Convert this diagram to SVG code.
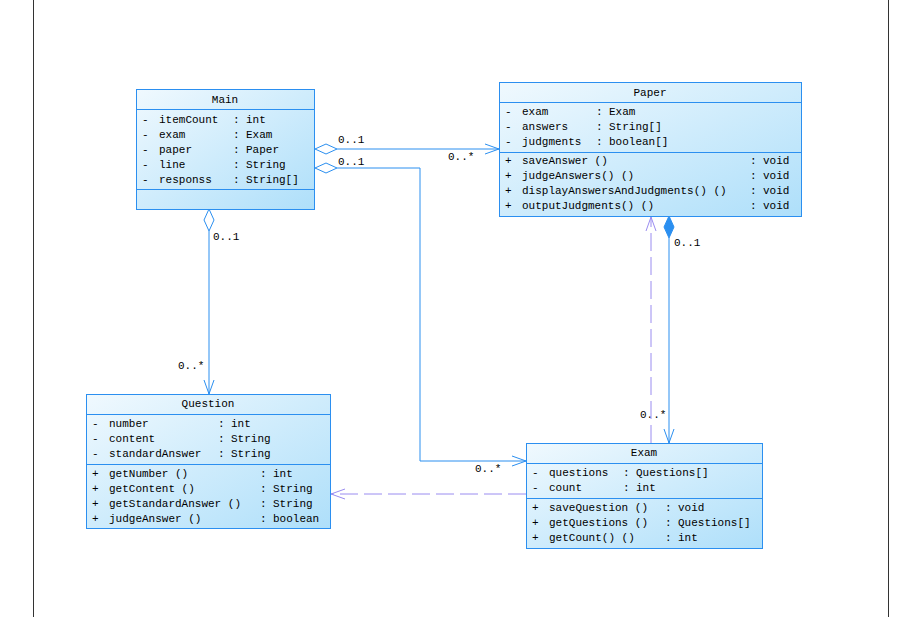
<svg xmlns="http://www.w3.org/2000/svg" width="910" height="617" viewBox="0 0 910 617">
<style>
.box{fill:url(#g);stroke:#2b8ff0;stroke-width:1}
.sep{stroke:#2b8ff0;stroke-width:1}
text{font-family:"Liberation Mono","DejaVu Sans Mono",monospace;font-size:11px;fill:#000}
.t{text-anchor:middle}
.c{fill:none;stroke:#2b8ff0;stroke-width:1}
.d{fill:none;stroke:#9a8cf0;stroke-width:1;stroke-dasharray:18,6}
</style>
<defs>
<linearGradient id="g" x1="0" y1="0" x2="1" y2="1">
<stop offset="0" stop-color="#f0f9fe"/><stop offset="1" stop-color="#aedffa"/>
</linearGradient>
</defs>
<rect width="910" height="617" fill="#fff"/>
<line x1="33.5" y1="0" x2="33.5" y2="617" stroke="#333"/>
<line x1="888.5" y1="0" x2="888.5" y2="617" stroke="#333"/>

<g id="connectors">
<path class="c" d="M337,149 H499"/>
<path fill="#fff" stroke="#2b8ff0" d="M315,149 L326,144 L337,149 L326,154 Z"/>
<path class="c" d="M485,144 L499,149 L485,154"/>
<text x="338" y="143">0..1</text><text x="448" y="160">0..*</text>

<path class="c" d="M337,168 H420 V461 H526"/>
<path fill="#fff" stroke="#2b8ff0" d="M315,168 L326,163 L337,168 L326,173 Z"/>
<path class="c" d="M512,456 L526,461 L512,466"/>
<text x="338" y="165">0..1</text><text x="475" y="472">0..*</text>

<path class="c" d="M209,231 V394"/>
<path fill="#fff" stroke="#2b8ff0" d="M209,209 L204,220 L209,231 L214,220 Z"/>
<path class="c" d="M204,380 L209,394 L214,380"/>
<text x="213" y="240">0..1</text><text x="178" y="369">0..*</text>

<path class="c" d="M669,238 V443"/>
<path fill="#2b8ff0" stroke="#2b8ff0" d="M669,216 L664,227 L669,238 L674,227 Z"/>
<path class="c" d="M664,429 L669,443 L674,429"/>
<text x="674" y="246">0..1</text><text x="640" y="418">0..*</text>

<path class="d" d="M651,443 V217"/>
<path fill="none" stroke="#9a8cf0" d="M646,231 L651,217 L656,231"/>
<path class="d" d="M526,494 H331"/>
<path fill="none" stroke="#9a8cf0" d="M345,489 L331,494 L345,499"/>
</g>

<g id="Main">
<rect class="box" x="136.5" y="89.5" width="178" height="120"/>
<line class="sep" x1="136" y1="109.5" x2="315" y2="109.5"/>
<line class="sep" x1="136" y1="189.5" x2="315" y2="189.5"/>
<text class="t" x="225" y="103">Main</text>
<text x="142" y="123">-</text><text x="159" y="123">itemCount</text><text x="233" y="123">:</text><text x="246" y="123">int</text>
<text x="142" y="138">-</text><text x="159" y="138">exam</text><text x="233" y="138">:</text><text x="246" y="138">Exam</text>
<text x="142" y="153">-</text><text x="159" y="153">paper</text><text x="233" y="153">:</text><text x="246" y="153">Paper</text>
<text x="142" y="168">-</text><text x="159" y="168">line</text><text x="233" y="168">:</text><text x="246" y="168">String</text>
<text x="142" y="183">-</text><text x="159" y="183">responss</text><text x="233" y="183">:</text><text x="246" y="183">String[]</text>
</g>

<g id="Paper">
<rect class="box" x="499.5" y="82.5" width="302" height="134"/>
<line class="sep" x1="499" y1="102.5" x2="802" y2="102.5"/>
<line class="sep" x1="499" y1="152.5" x2="802" y2="152.5"/>
<text class="t" x="650" y="96">Paper</text>
<text x="505" y="115">-</text><text x="522" y="115">exam</text><text x="596" y="115">:</text><text x="609" y="115">Exam</text>
<text x="505" y="130">-</text><text x="522" y="130">answers</text><text x="596" y="130">:</text><text x="609" y="130">String[]</text>
<text x="505" y="145">-</text><text x="522" y="145">judgments</text><text x="596" y="145">:</text><text x="609" y="145">boolean[]</text>
<text x="505" y="164">+</text><text x="522" y="164">saveAnswer ()</text><text x="750" y="164">:</text><text x="763" y="164">void</text>
<text x="505" y="179">+</text><text x="522" y="179">judgeAnswers() ()</text><text x="750" y="179">:</text><text x="763" y="179">void</text>
<text x="505" y="194">+</text><text x="522" y="194">displayAnswersAndJudgments() ()</text><text x="750" y="194">:</text><text x="763" y="194">void</text>
<text x="505" y="209">+</text><text x="522" y="209">outputJudgments() ()</text><text x="750" y="209">:</text><text x="763" y="209">void</text>
</g>

<g id="Question">
<rect class="box" x="86.5" y="394.5" width="244" height="134"/>
<line class="sep" x1="86" y1="414.5" x2="331" y2="414.5"/>
<line class="sep" x1="86" y1="464.5" x2="331" y2="464.5"/>
<text class="t" x="208" y="407">Question</text>
<text x="92" y="427">-</text><text x="109" y="427">number</text><text x="218" y="427">:</text><text x="231" y="427">int</text>
<text x="92" y="442">-</text><text x="109" y="442">content</text><text x="218" y="442">:</text><text x="231" y="442">String</text>
<text x="92" y="457">-</text><text x="109" y="457">standardAnswer</text><text x="218" y="457">:</text><text x="231" y="457">String</text>
<text x="92" y="477">+</text><text x="109" y="477">getNumber ()</text><text x="260" y="477">:</text><text x="273" y="477">int</text>
<text x="92" y="492">+</text><text x="109" y="492">getContent ()</text><text x="260" y="492">:</text><text x="273" y="492">String</text>
<text x="92" y="507">+</text><text x="109" y="507">getStandardAnswer ()</text><text x="260" y="507">:</text><text x="273" y="507">String</text>
<text x="92" y="522">+</text><text x="109" y="522">judgeAnswer ()</text><text x="260" y="522">:</text><text x="273" y="522">boolean</text>
</g>

<g id="Exam">
<rect class="box" x="526.5" y="443.5" width="236" height="105"/>
<line class="sep" x1="526" y1="463.5" x2="763" y2="463.5"/>
<line class="sep" x1="526" y1="498.5" x2="763" y2="498.5"/>
<text class="t" x="644" y="456">Exam</text>
<text x="532" y="476">-</text><text x="549" y="476">questions</text><text x="623" y="476">:</text><text x="636" y="476">Questions[]</text>
<text x="532" y="491">-</text><text x="549" y="491">count</text><text x="623" y="491">:</text><text x="636" y="491">int</text>
<text x="532" y="511">+</text><text x="549" y="511">saveQuestion ()</text><text x="665" y="511">:</text><text x="678" y="511">void</text>
<text x="532" y="526">+</text><text x="549" y="526">getQuestions ()</text><text x="665" y="526">:</text><text x="678" y="526">Questions[]</text>
<text x="532" y="541">+</text><text x="549" y="541">getCount() ()</text><text x="665" y="541">:</text><text x="678" y="541">int</text>
</g>
</svg>
